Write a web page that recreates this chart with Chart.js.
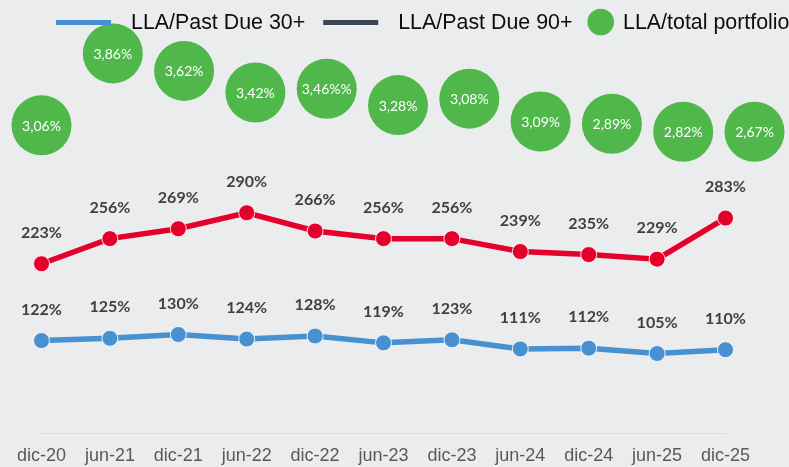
<!DOCTYPE html>
<html><head><meta charset="utf-8">
<script src="https://cdn.jsdelivr.net/npm/chart.js@4/dist/chart.umd.min.js"></script>
<style>html,body{margin:0;padding:0;background:#ebecee;}canvas{display:block;}</style>
</head><body>
<canvas id="c" width="789" height="467"></canvas>
<script>
// ---- data ----
const categories = ['dic-20','jun-21','dic-21','jun-22','dic-22','jun-23','dic-23','jun-24','dic-24','jun-25','dic-25'];
const pastDue30 = [122,125,130,124,128,119,123,111,112,105,110];
const pastDue90 = [223,256,269,290,266,256,256,239,235,229,283];
const totalPortfolioText = ['3,06%','3,86%','3,62%','3,42%','3,46%%','3,28%','3,08%','3,09%','2,89%','2,82%','2,67%'];
// plotted height of each bubble (0-100 relative scale)
const totalPortfolioLevel = [81.0, 99.9, 95.3, 89.6, 90.6, 86.3, 88.0, 82.0, 81.4, 79.3, 79.3];
const seriesNames = ['LLA/Past Due 30+','LLA/Past Due 90+','LLA/total portfolio'];

const COL_BLUE = '#4791d0', COL_RED = '#e4002b', COL_GREEN = '#50b84b', COL_DARK = '#3b4656';

const valueLabels = {
  id: 'valueLabels',
  afterDatasetsDraw(chart) {
    const ctx = chart.ctx;
    chart.data.datasets.forEach((ds, i) => {
      const meta = chart.getDatasetMeta(i);
      meta.data.forEach((pt, j) => {
        ctx.save();
        ctx.textAlign = 'center';
        ctx.textBaseline = 'middle';
        if (ds.kind === 'bubble') {
          ctx.font = '14px Lato';
          ctx.fillStyle = '#ffffff';
          ctx.fillText(ds.texts[j], pt.x, pt.y + 1);
        } else {
          ctx.font = 'bold 16px Lato';
          ctx.fillStyle = '#404040';
          ctx.fillText(ds.data[j] + '%', pt.x, pt.y - 31);
        }
        ctx.restore();
      });
    });
  }
};

const customLegend = {
  id: 'customLegend',
  afterDraw(chart) {
    const ctx = chart.ctx;
    ctx.save();
    ctx.font = '21.4px "Liberation Sans", Arial, sans-serif';
    ctx.fillStyle = '#0d0d0d';
    ctx.textBaseline = 'alphabetic';
    let x = 56;
    const yMid = 22.5, base = 29;
    // item 1
    ctx.fillStyle = COL_BLUE; ctx.fillRect(x, yMid - 2.5, 55, 5);
    x += 55 + 20;
    ctx.fillStyle = '#0d0d0d'; ctx.fillText(seriesNames[0], x, base);
    x += ctx.measureText(seriesNames[0]).width + 18;
    // item 2
    ctx.fillStyle = COL_DARK; ctx.fillRect(x, yMid - 2.5, 55, 5);
    x += 55 + 20;
    ctx.fillStyle = '#0d0d0d'; ctx.fillText(seriesNames[1], x, base);
    x += ctx.measureText(seriesNames[1]).width + 15;
    // item 3
    ctx.fillStyle = COL_GREEN;
    ctx.beginPath(); ctx.arc(x + 13.3, yMid - 0.5, 13.3, 0, Math.PI * 2); ctx.fill();
    x += 26.6 + 9;
    ctx.fillStyle = '#0d0d0d'; ctx.fillText(seriesNames[2], x, base);
    ctx.restore();
  }
};

new Chart(document.getElementById('c'), {
  type: 'line',
  data: {
    labels: categories,
    datasets: [
      {
        kind: 'bubble',
        label: seriesNames[2],
        texts: totalPortfolioText,
        data: totalPortfolioLevel.map((v, i) => ({ x: i, y: v })),
        xAxisID: 'x2', yAxisID: 'y2',
        showLine: false,
        pointRadius: 30, pointHoverRadius: 30,
        pointBackgroundColor: COL_GREEN, pointBorderWidth: 0,
        backgroundColor: COL_GREEN, borderColor: COL_GREEN,
        clip: false
      },
      {
        label: seriesNames[1],
        data: pastDue90,
        borderColor: COL_RED, backgroundColor: COL_RED,
        borderWidth: 5.5,
        pointRadius: 8, pointHoverRadius: 8,
        pointBackgroundColor: COL_RED,
        pointBorderColor: 'rgba(255,255,255,0.85)', pointBorderWidth: 1,
        clip: false
      },
      {
        label: seriesNames[0],
        data: pastDue30,
        borderColor: COL_BLUE, backgroundColor: COL_BLUE,
        borderWidth: 5.5,
        pointRadius: 8, pointHoverRadius: 8,
        pointBackgroundColor: COL_BLUE,
        pointBorderColor: 'rgba(255,255,255,0.85)', pointBorderWidth: 1,
        clip: false
      }
    ]
  },
  options: {
    responsive: false,
    animation: false,
    events: [],
    layout: { padding: { top: 53, left: 41.5, right: 63.5, bottom: -12 } },
    plugins: { legend: { display: false }, tooltip: { enabled: false } },
    scales: {
      x: {
        type: 'category',
        offset: false,
        grid: { display: true, drawOnChartArea: false, drawTicks: false },
        border: { display: true, color: '#d9d9d9', width: 1 },
        ticks: { color: '#595959', font: { family: '"Liberation Sans", Arial, sans-serif', size: 18 }, padding: 12, maxRotation: 0, autoSkip: false }
      },
      x2: { type: 'linear', display: false, min: 0, max: 9.593 },
      y: { display: false, min: 0, max: 500 },
      y2: { display: false, min: 0, max: 100 }
    }
  },
  plugins: [valueLabels, customLegend]
});
</script>
</body></html>
